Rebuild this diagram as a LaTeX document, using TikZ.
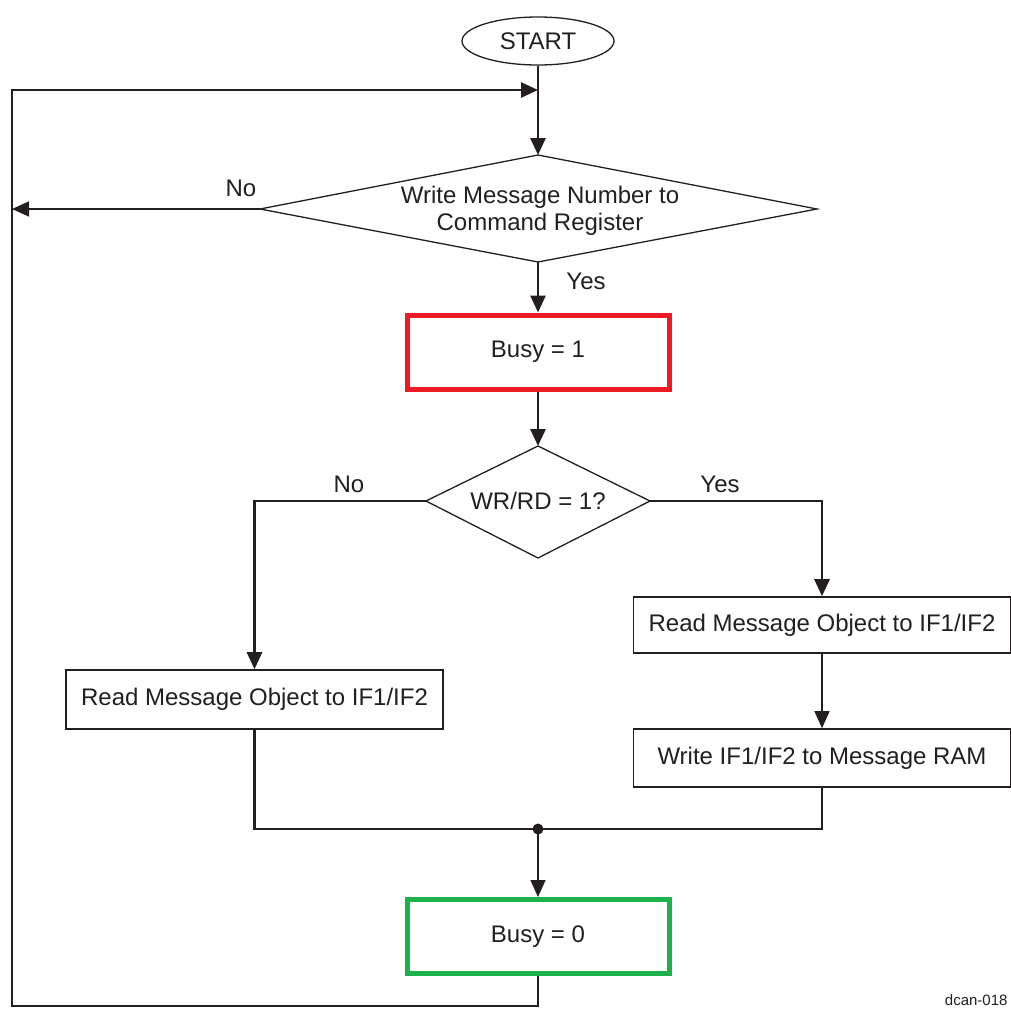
\documentclass[tikz,border=0pt]{standalone}
\usepackage{fontspec}
\setmainfont{Liberation Sans}
\usetikzlibrary{arrows.meta,shapes.geometric}
\definecolor{ink}{HTML}{231F20}
\definecolor{redb}{HTML}{ED1C24}
\definecolor{greenb}{HTML}{1DB14B}
\begin{document}
\begin{tikzpicture}[x=1pt,y=-1pt,
  txt/.style={font=\fontsize{24}{27}\selectfont, text=ink},
  thk/.style={draw=ink, line width=2.8pt},
  thn/.style={draw=ink, line width=1.3pt},
  arr/.style={-{Triangle[length=17pt,width=15pt]}},
  box/.style={draw=ink, line width=1.6pt, rectangle, inner sep=0pt, txt},
  cbox/.style={rectangle, line width=5pt, inner sep=0pt, minimum width=262pt, minimum height=74pt, txt},
  dia/.style={draw=ink, line width=1.3pt, fill=white}
]
\useasboundingbox (0,0) rectangle (1011,1009);
\fill[white] (0,0) rectangle (1011,1009);

% start
\node[ellipse, draw=ink, line width=1.3pt, minimum width=152pt, minimum height=48pt, inner sep=0pt, txt] (start) at (538,41) {START};

% decision 1 coordinates
\coordinate (d1n) at (538,155);
\coordinate (d1s) at (538,262);
\coordinate (d1w) at (260,209);
\coordinate (d1e) at (817,209);
\draw[dia] (d1n) -- (d1e) -- (d1s) -- (d1w) -- cycle;
\node[txt, align=center] (d1) at (540,211) {Write Message Number to\\Command Register};

% busy = 1
\node[cbox, draw=redb] (busy1) at (538,352) {Busy = 1};

% decision 2
\coordinate (d2n) at (538,446);
\coordinate (d2s) at (538,558);
\coordinate (d2w) at (426,501);
\coordinate (d2e) at (650,501);
\draw[dia] (d2n) -- (d2e) -- (d2s) -- (d2w) -- cycle;
\node[txt] (d2) at (538,501) {WR/RD = 1?};

% boxes
\node[box, minimum width=377pt, minimum height=56pt] (rr) at (822,625) {Read Message Object to IF1/IF2};
\node[box, minimum width=377pt, minimum height=58pt] (wr) at (822,758) {Write IF1/IF2 to Message RAM};
\node[box, minimum width=377pt, minimum height=59pt] (rl) at (254.5,699.5) {Read Message Object to IF1/IF2};

% busy = 0
\node[cbox, draw=greenb] (busy0) at (538,936.5) {Busy = 0};

% loop coordinates
\coordinate (loopin) at (538,90);
\coordinate (noend) at (12,209);
\coordinate (join) at (538,829);

% connectors
\draw[thk,arr] (start.south) -- (d1n);
\draw[thk,arr] (busy0.south) -- (538,1006) -- (12,1006) -- (12,90) -- (loopin);
\draw[thn,line width=1.6pt,arr] (d1w) -- (noend);
\draw[thk,arr] (d1s) -- (busy1.north);
\draw[thk,arr] (busy1.south) -- (d2n);
\draw[thk,arr] (d2w) -| (rl.north);
\draw[thk,arr] (d2e) -| (rr.north);
\draw[thn,arr] (rr.south) -- (wr.north);
\draw[thk] (rl.south) |- (join) -| (wr.south);
\fill[ink] (join) circle (5.5pt);
\draw[thn,arr] (join) -- (busy0.north);

% labels
\node[txt] (no1) at (241,188) {No};
\node[txt] (yes1) at (586,281) {Yes};
\node[txt] (no2) at (349,484) {No};
\node[txt] (yes2) at (720,484) {Yes};
\node[font=\fontsize{15}{18}\selectfont, text=ink, anchor=east] (tag) at (1011,1000) {dcan-018};
\end{tikzpicture}
\end{document}
